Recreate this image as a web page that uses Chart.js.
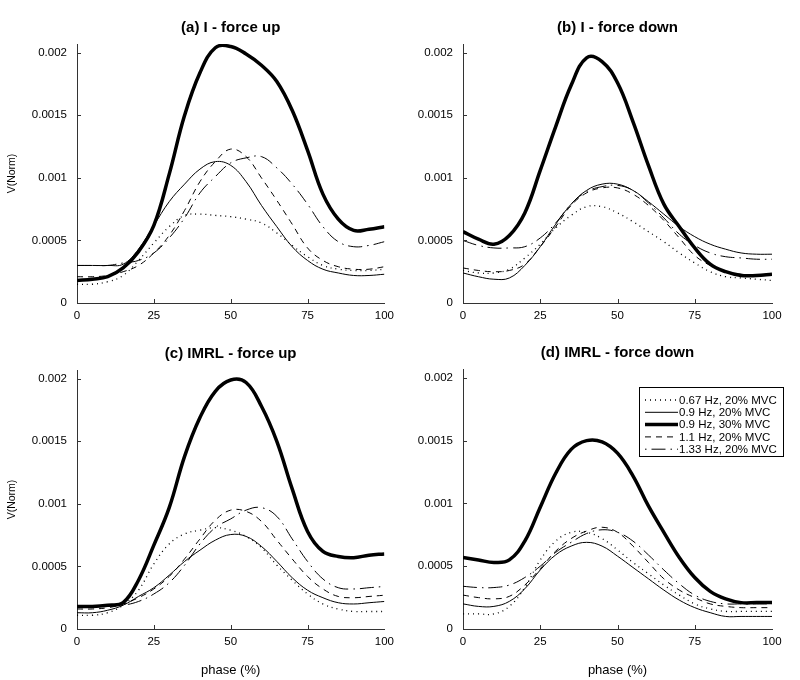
<!DOCTYPE html>
<html>
<head>
<meta charset="utf-8">
<script src="https://cdn.jsdelivr.net/npm/chart.js@4"></script>
<style>
  body { margin: 0; background: #fff; }
  #wrap { position: relative; width: 800px; height: 680px; overflow: hidden; }
  .cell { position: absolute; width: 400px; }
</style>
</head>
<body>
<div id="wrap">
  <div class="cell" style="left:0;top:0;height:330px"><canvas id="pa"></canvas></div>
  <div class="cell" style="left:400px;top:0;height:330px"><canvas id="pb"></canvas></div>
  <div class="cell" style="left:0;top:330px;height:350px"><canvas id="pc"></canvas></div>
  <div class="cell" style="left:400px;top:330px;height:350px"><canvas id="pd"></canvas></div>
</div>
<script>
// phase (%) sample points and tick labels
const phase = [0, 5, 10, 15, 20, 25, 30, 35, 40, 45, 50, 55, 60, 65, 70, 75, 80, 85, 90, 95, 100];
const xTicks = [0, 25, 50, 75, 100];
const yTicks = [0, 0.0005, 0.001, 0.0015, 0.002];
const seriesLabels = ['0.67 Hz, 20% MVC', '0.9 Hz, 20% MVC', '0.9 Hz, 30% MVC', '1.1 Hz, 20% MVC', '1.33 Hz, 20% MVC'];

// values, in units of 0.001 V(Norm)
// (a) I - force up
const a067  = [0.15,0.15,0.17,0.22,0.34,0.48,0.61,0.70,0.71,0.70,0.69,0.67,0.64,0.56,0.46,0.37,0.30,0.27,0.26,0.26,0.27];
const a0920 = [0.30,0.30,0.30,0.31,0.43,0.62,0.81,0.95,1.07,1.13,1.10,0.97,0.78,0.61,0.45,0.34,0.27,0.24,0.22,0.22,0.23];
const a0930 = [0.18,0.19,0.21,0.28,0.41,0.62,1.03,1.50,1.84,2.04,2.05,1.99,1.90,1.77,1.54,1.22,0.87,0.67,0.58,0.59,0.61];
const a11   = [0.21,0.21,0.22,0.25,0.30,0.40,0.54,0.74,0.97,1.13,1.23,1.17,1.00,0.82,0.63,0.44,0.34,0.29,0.27,0.27,0.29];
const a133  = [0.30,0.30,0.30,0.32,0.34,0.40,0.52,0.68,0.88,1.01,1.12,1.16,1.17,1.08,0.95,0.79,0.61,0.49,0.45,0.46,0.49];
// (b) I - force down
const b067  = [0.26,0.24,0.24,0.27,0.36,0.47,0.60,0.70,0.77,0.77,0.72,0.65,0.57,0.49,0.40,0.32,0.25,0.21,0.20,0.19,0.18];
const b0920 = [0.24,0.21,0.19,0.20,0.30,0.45,0.63,0.79,0.90,0.95,0.95,0.90,0.81,0.71,0.61,0.53,0.47,0.43,0.40,0.39,0.39];
const b0930 = [0.57,0.51,0.47,0.54,0.72,1.06,1.41,1.74,1.96,1.93,1.76,1.45,1.10,0.79,0.61,0.44,0.31,0.25,0.22,0.22,0.23];
const b11   = [0.28,0.26,0.25,0.26,0.31,0.45,0.61,0.78,0.88,0.92,0.92,0.87,0.78,0.66,0.52,0.38,0.30,0.25,0.23,0.22,0.22];
const b133  = [0.50,0.46,0.44,0.44,0.45,0.52,0.64,0.79,0.89,0.93,0.94,0.90,0.80,0.68,0.55,0.46,0.40,0.37,0.36,0.35,0.35];
// (c) IMRL - force up
const c067  = [0.11,0.11,0.13,0.19,0.31,0.52,0.68,0.76,0.79,0.81,0.79,0.74,0.65,0.51,0.39,0.28,0.20,0.16,0.14,0.14,0.14];
const c0920 = [0.13,0.13,0.15,0.19,0.26,0.33,0.43,0.54,0.63,0.71,0.755,0.74,0.66,0.54,0.41,0.31,0.25,0.21,0.20,0.21,0.22];
const c0930 = [0.18,0.18,0.19,0.21,0.39,0.67,0.97,1.38,1.69,1.90,1.99,1.97,1.78,1.50,1.12,0.78,0.62,0.58,0.57,0.59,0.60];
const c11   = [0.16,0.16,0.17,0.20,0.25,0.32,0.42,0.56,0.72,0.87,0.95,0.94,0.86,0.71,0.56,0.42,0.32,0.26,0.25,0.26,0.27];
const c133  = [0.18,0.18,0.18,0.19,0.22,0.28,0.37,0.51,0.68,0.81,0.88,0.95,0.97,0.90,0.72,0.54,0.40,0.33,0.32,0.33,0.34];
// (d) IMRL - force down
const d067  = [0.12,0.12,0.12,0.18,0.33,0.55,0.70,0.77,0.77,0.72,0.63,0.53,0.44,0.35,0.27,0.20,0.16,0.14,0.14,0.14,0.14];
const d0920 = [0.20,0.18,0.18,0.22,0.32,0.47,0.59,0.66,0.69,0.66,0.58,0.49,0.40,0.31,0.23,0.17,0.13,0.10,0.10,0.10,0.10];
const d0930 = [0.57,0.55,0.53,0.55,0.70,0.97,1.24,1.43,1.50,1.49,1.40,1.22,0.98,0.77,0.57,0.41,0.30,0.24,0.21,0.21,0.21];
const d11   = [0.27,0.25,0.24,0.26,0.35,0.48,0.62,0.72,0.78,0.81,0.77,0.66,0.53,0.40,0.31,0.25,0.20,0.18,0.17,0.17,0.17];
const d133  = [0.34,0.33,0.33,0.35,0.41,0.50,0.61,0.69,0.76,0.79,0.77,0.70,0.59,0.47,0.36,0.27,0.22,0.20,0.20,0.20,0.20];

// line style per series
const widths = [1.3, 1, 3.5, 1, 1];
const dashes = [[1, 4], [], [], [6, 5], [14, 5, 1.5, 5]];

Chart.defaults.font.family = '"Liberation Sans", Arial, sans-serif';
Chart.defaults.color = '#000';

// panel title centred over the plot area, small inward tick marks, legend box
const decor = {
  id: 'decor',
  afterDraw(chart, args, opts) {
    const ctx = chart.ctx;
    const area = chart.chartArea;
    const sx = chart.scales.x, sy = chart.scales.y;
    ctx.save();
    ctx.fillStyle = '#000';
    ctx.font = 'bold 15px "Liberation Sans", Arial, sans-serif';
    ctx.textAlign = 'center';
    ctx.textBaseline = 'middle';
    ctx.fillText(opts.title, (area.left + area.right) / 2, opts.titleY);

    ctx.strokeStyle = '#333';
    ctx.lineWidth = 1;
    ctx.beginPath();
    xTicks.slice(1, -1).forEach(v => {
      const px = Math.round(sx.getPixelForValue(v)) + 0.5;
      ctx.moveTo(px, area.bottom);
      ctx.lineTo(px, area.bottom - 4);
    });
    yTicks.slice(1).forEach(v => {
      const py = Math.round(sy.getPixelForValue(v)) + 0.5;
      ctx.moveTo(area.left, py);
      ctx.lineTo(area.left + 4, py);
    });
    ctx.stroke();

    if (opts.legend) {
      const x = 239, y = 57, w = 144, h = 69;
      ctx.fillStyle = '#fff';
      ctx.fillRect(x, y, w, h);
      ctx.strokeStyle = '#000';
      ctx.strokeRect(x + 0.5, y + 0.5, w, h);
      ctx.font = '11.5px "Liberation Sans", Arial, sans-serif';
      ctx.textAlign = 'left';
      chart.data.datasets.forEach((ds, i) => {
        const ly = y + 13 + i * 12.3;
        ctx.lineWidth = ds.borderWidth;
        ctx.setLineDash(ds.borderDash);
        ctx.lineDashOffset = i === 4 ? 19 : 0;
        ctx.beginPath();
        ctx.moveTo(x + 6, ly);
        ctx.lineTo(x + 39, ly);
        ctx.stroke();
        ctx.setLineDash([]);
        ctx.fillStyle = '#000';
        ctx.fillText(ds.label, x + 40, ly + 0.5);
      });
    }
    ctx.restore();
  }
};

function fmt(v) {
  return String(parseFloat(v.toFixed(4)));
}

function panel(id, title, series, o) {
  return new Chart(document.getElementById(id), {
    type: 'line',
    data: {
      datasets: series.map((vals, i) => ({
        label: seriesLabels[i],
        data: phase.map((p, j) => ({ x: p, y: vals[j] / 1000 })),
        borderColor: '#000',
        borderWidth: widths[i],
        borderDash: dashes[i],
        pointRadius: 0,
        tension: 0.4,
        fill: false
      }))
    },
    options: {
      responsive: true,
      maintainAspectRatio: false,
      animation: false,
      layout: { padding: { left: 0, right: o.right, top: o.top, bottom: 0 } },
      plugins: {
        legend: { display: false },
        tooltip: { enabled: false },
        title: { display: false },
        decor: { title: title, titleY: o.titleY, legend: !!o.legend }
      },
      scales: {
        x: {
          type: 'linear', min: 0, max: 100,
          afterFit: s => { s.height = o.xH; },
          afterBuildTicks: s => { s.ticks = xTicks.map(v => ({ value: v })); },
          grid: { display: false, drawTicks: false },
          border: { color: '#333' },
          ticks: { padding: 6, font: { size: 11.5 }, maxRotation: 0 },
          title: { display: !!o.xTitle, text: 'phase (%)', font: { size: 13 }, padding: { top: 0, bottom: 2 } }
        },
        y: {
          min: 0, max: 0.00207,
          afterFit: s => { s.width = o.yW; },
          afterBuildTicks: s => { s.ticks = yTicks.map(v => ({ value: v })); },
          grid: { display: false, drawTicks: false },
          border: { color: '#333' },
          ticks: { padding: 10, font: { size: 11.5 }, callback: v => fmt(v) },
          title: { display: !!o.yTitle, text: 'V(Norm)', font: { size: 10.5 }, padding: { top: 6, bottom: 0 } }
        }
      }
    },
    plugins: [decor]
  });
}

panel('pa', '(a) I - force up', [a067, a0920, a0930, a11, a133],
  { right: 15, yW: 77, xH: 27, top: 44, titleY: 28, yTitle: true });
panel('pb', '(b) I - force down', [b067, b0920, b0930, b11, b133],
  { right: 28, yW: 63, xH: 27, top: 44, titleY: 28 });
panel('pc', '(c) IMRL - force up', [c067, c0920, c0930, c11, c133],
  { right: 15, yW: 77, xH: 51, top: 40, titleY: 24, yTitle: true, xTitle: true });
panel('pd', '(d) IMRL - force down', [d067, d0920, d0930, d11, d133],
  { right: 28, yW: 63, xH: 51, top: 39, titleY: 23, xTitle: true, legend: true });
</script>
</body>
</html>
